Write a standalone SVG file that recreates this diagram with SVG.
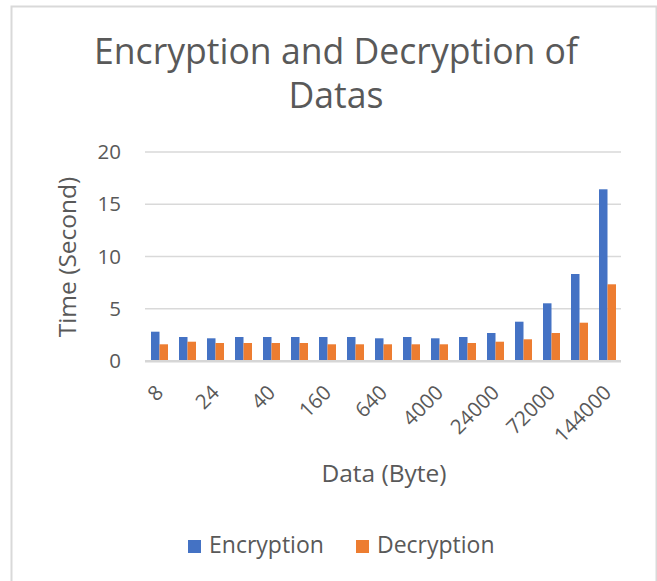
<svg xmlns="http://www.w3.org/2000/svg" width="657" height="581" viewBox="0 0 657 581">
<style>
text{font-family:"Segoe UI","Open Sans","Noto Sans",sans-serif;fill:#595959}
.title{font-size:35.6px;text-anchor:middle}
.tick{font-size:20.5px}
.ytick{text-anchor:end}
.xtick{text-anchor:end}
.axt{font-size:24.5px;text-anchor:middle}
.leg{font-size:23px}
.grid{stroke:#d9d9d9;stroke-width:1.6;fill:none}
.axis{stroke:#d6d6d6;stroke-width:2.4;fill:none}
.enc{fill:#4472C4}
.dec{fill:#ED7D31}
</style>
<rect x="0" y="0" width="657" height="581" fill="#ffffff"/>
<rect id="frame" x="11.5" y="6.5" width="645" height="600" fill="#ffffff" stroke="#d9d9d9" stroke-width="2"/>
<g id="title">
<text class="title" x="336" y="64">Encryption and Decryption of</text>
<text class="title" x="336" y="108">Datas</text>
</g>
<g id="gridlines">
<line class="grid" x1="145" y1="152" x2="621" y2="152"/>
<line class="grid" x1="145" y1="204.25" x2="621" y2="204.25"/>
<line class="grid" x1="145" y1="256.5" x2="621" y2="256.5"/>
<line class="grid" x1="145" y1="308.75" x2="621" y2="308.75"/>
</g>
<g id="y-ticks">
<text class="tick ytick" x="121" y="159">20</text>
<text class="tick ytick" x="121" y="211.25">15</text>
<text class="tick ytick" x="121" y="263.5">10</text>
<text class="tick ytick" x="121" y="315.75">5</text>
<text class="tick ytick" x="121" y="368">0</text>
</g>
<text id="y-title" class="axt" transform="translate(76,257) rotate(-90)">Time (Second)</text>
<g id="encryption-bars">
<rect class="enc" x="151" y="331.7" width="8.5" height="29.3"/>
<rect class="enc" x="179" y="337" width="8.5" height="24"/>
<rect class="enc" x="207" y="338.3" width="8.5" height="22.7"/>
<rect class="enc" x="235" y="337" width="8.5" height="24"/>
<rect class="enc" x="263" y="337" width="8.5" height="24"/>
<rect class="enc" x="291" y="337" width="8.5" height="24"/>
<rect class="enc" x="319" y="337" width="8.5" height="24"/>
<rect class="enc" x="347" y="337" width="8.5" height="24"/>
<rect class="enc" x="375" y="338.3" width="8.5" height="22.7"/>
<rect class="enc" x="403" y="337" width="8.5" height="24"/>
<rect class="enc" x="431" y="338.3" width="8.5" height="22.7"/>
<rect class="enc" x="459" y="337" width="8.5" height="24"/>
<rect class="enc" x="487" y="333" width="8.5" height="28"/>
<rect class="enc" x="515" y="321.7" width="8.5" height="39.3"/>
<rect class="enc" x="543" y="303.3" width="8.5" height="57.7"/>
<rect class="enc" x="571" y="274" width="8.5" height="87"/>
<rect class="enc" x="599" y="189.3" width="8.5" height="171.7"/>
</g>
<g id="decryption-bars">
<rect class="dec" x="159.5" y="344.3" width="8.5" height="16.7"/>
<rect class="dec" x="187.5" y="341.7" width="8.5" height="19.3"/>
<rect class="dec" x="215.5" y="343" width="8.5" height="18"/>
<rect class="dec" x="243.5" y="343" width="8.5" height="18"/>
<rect class="dec" x="271.5" y="343" width="8.5" height="18"/>
<rect class="dec" x="299.5" y="343" width="8.5" height="18"/>
<rect class="dec" x="327.5" y="344.3" width="8.5" height="16.7"/>
<rect class="dec" x="355.5" y="344.3" width="8.5" height="16.7"/>
<rect class="dec" x="383.5" y="344.3" width="8.5" height="16.7"/>
<rect class="dec" x="411.5" y="344.3" width="8.5" height="16.7"/>
<rect class="dec" x="439.5" y="344.3" width="8.5" height="16.7"/>
<rect class="dec" x="467.5" y="343" width="8.5" height="18"/>
<rect class="dec" x="495.5" y="341.7" width="8.5" height="19.3"/>
<rect class="dec" x="523.5" y="339.3" width="8.5" height="21.7"/>
<rect class="dec" x="551.5" y="333" width="8.5" height="28"/>
<rect class="dec" x="579.5" y="322.7" width="8.5" height="38.3"/>
<rect class="dec" x="607.5" y="284.3" width="8.5" height="76.7"/>
</g>
<line id="x-axis" class="axis" x1="145" y1="361.2" x2="621" y2="361.2"/>
<g id="x-ticks">
<text class="tick xtick" transform="translate(164.5,394) rotate(-45)">8</text>
<text class="tick xtick" transform="translate(220.5,394) rotate(-45)">24</text>
<text class="tick xtick" transform="translate(276.5,394) rotate(-45)">40</text>
<text class="tick xtick" transform="translate(332.5,394) rotate(-45)">160</text>
<text class="tick xtick" transform="translate(388.5,394) rotate(-45)">640</text>
<text class="tick xtick" transform="translate(444.5,394) rotate(-45)">4000</text>
<text class="tick xtick" transform="translate(500.5,394) rotate(-45)">24000</text>
<text class="tick xtick" transform="translate(556.5,394) rotate(-45)">72000</text>
<text class="tick xtick" transform="translate(612.5,394) rotate(-45)">144000</text>
</g>
<text id="x-title" class="axt" x="384" y="482">Data (Byte)</text>
<g id="legend">
<g id="legend-encryption">
<rect class="enc" x="188" y="540" width="13" height="13"/>
<text class="leg" x="209" y="553">Encryption</text>
</g>
<g id="legend-decryption">
<rect class="dec" x="356" y="540" width="13" height="13"/>
<text class="leg" x="377" y="553">Decryption</text>
</g>
</g>
</svg>
